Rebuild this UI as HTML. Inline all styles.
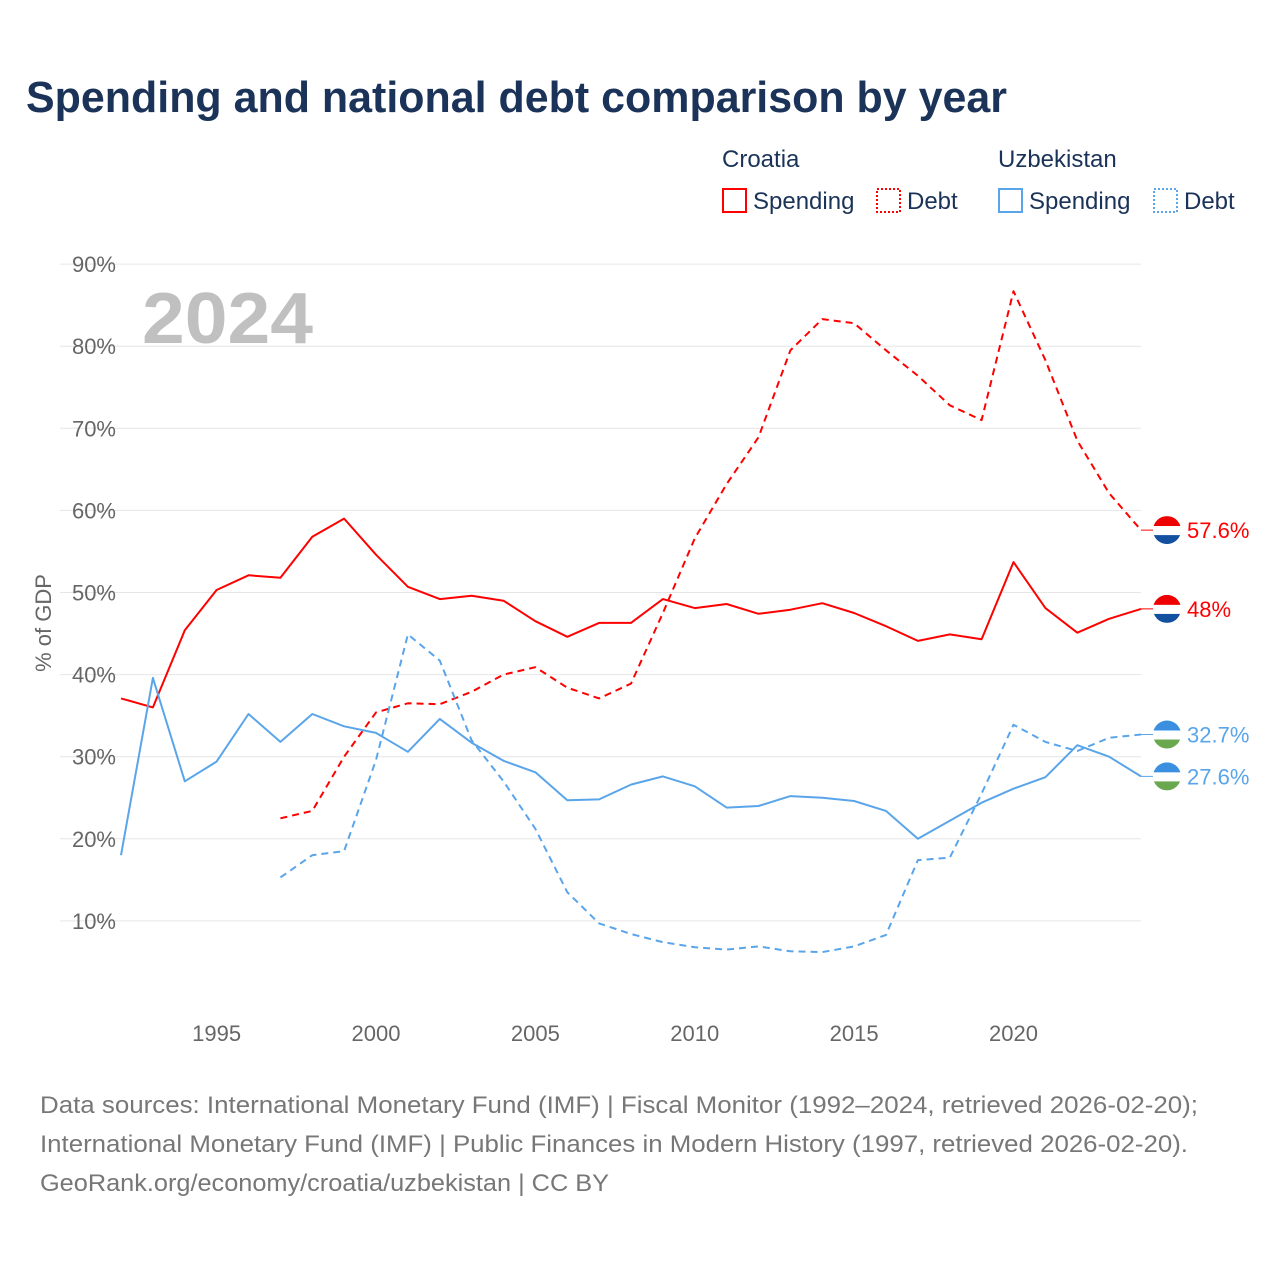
<!DOCTYPE html>
<html><head><meta charset="utf-8">
<style>
html,body{margin:0;padding:0;background:#fff;}
body{width:1280px;height:1280px;overflow:hidden;font-family:"Liberation Sans",sans-serif;}
svg text{font-family:"Liberation Sans",sans-serif;}
</style></head>
<body>
<svg width="1280" height="1280" viewBox="0 0 1280 1280" xmlns="http://www.w3.org/2000/svg" id="chart">
<text x="26" y="112" font-size="44" font-weight="bold" fill="#1b3358" textLength="981" lengthAdjust="spacingAndGlyphs">Spending and national debt comparison by year</text>
<g>
<text x="722" y="167" font-size="24" fill="#1b3358">Croatia</text>
<text x="998" y="167" font-size="24" fill="#1b3358">Uzbekistan</text>
<g><rect x="723" y="189" width="23" height="23" fill="none" stroke="#f00" stroke-width="2"/><text x="753" y="209" font-size="24" fill="#1b3358">Spending</text></g>
<g><rect x="877" y="189" width="23" height="23" fill="none" stroke="#f00" stroke-width="2" stroke-dasharray="2,2"/><text x="907" y="209" font-size="24" fill="#1b3358">Debt</text></g>
<g><rect x="999" y="189" width="23" height="23" fill="none" stroke="#5aa5ea" stroke-width="2"/><text x="1029" y="209" font-size="24" fill="#1b3358">Spending</text></g>
<g><rect x="1154" y="189" width="23" height="23" fill="none" stroke="#5aa5ea" stroke-width="2" stroke-dasharray="2,2"/><text x="1184" y="209" font-size="24" fill="#1b3358">Debt</text></g>
</g>
<text x="142" y="343" font-size="72" font-weight="bold" fill="#c0c0c0" textLength="171" lengthAdjust="spacingAndGlyphs">2024</text>
<g id="grid"></g><g id="series"></g><g id="ends"></g>
<text transform="translate(51,623) rotate(-90)" text-anchor="middle" font-size="22" fill="#666">% of GDP</text>
<g font-size="24" fill="#777">
<text x="40" y="1113" textLength="1158" lengthAdjust="spacingAndGlyphs">Data sources: International Monetary Fund (IMF) | Fiscal Monitor (1992–2024, retrieved 2026-02-20);</text>
<text x="40" y="1152" textLength="1148" lengthAdjust="spacingAndGlyphs">International Monetary Fund (IMF) | Public Finances in Modern History (1997, retrieved 2026-02-20).</text>
<text x="40" y="1191" textLength="569" lengthAdjust="spacingAndGlyphs">GeoRank.org/economy/croatia/uzbekistan | CC BY</text>
</g>
</svg>
<script>
const yTicks=[10,20,30,40,50,60,70,80,90];
const xTicks=[1995,2000,2005,2010,2015,2020];
const years=[];for(let y=1992;y<=2024;y++)years.push(y);
const debtYears=years.filter(y=>y>=1997);
const croSpending=[37.1,36.0,45.4,50.3,52.1,51.8,56.8,59.0,54.6,50.7,49.2,49.6,49.0,46.5,44.6,46.3,46.3,49.2,48.1,48.6,47.4,47.9,48.7,47.5,45.9,44.1,44.9,44.3,53.7,48.1,45.1,46.8,48.0];
const croDebt=[22.5,23.4,30.0,35.4,36.5,36.4,37.9,40.0,40.9,38.4,37.1,38.9,47.5,56.6,63.2,68.9,79.5,83.3,82.8,79.5,76.4,72.8,71.0,86.7,78.3,68.5,62.1,57.6];
const uzbSpending=[18.0,39.6,27.0,29.4,35.2,31.8,35.2,33.7,32.9,30.6,34.6,31.7,29.5,28.1,24.7,24.8,26.6,27.6,26.4,23.8,24.0,25.2,25.0,24.6,23.4,20.0,22.2,24.4,26.1,27.5,31.4,30.0,27.6];
const uzbDebt=[15.3,18.0,18.5,29.6,44.9,41.7,32.0,27.0,21.2,13.5,9.7,8.4,7.4,6.8,6.5,6.9,6.3,6.2,6.9,8.3,17.4,17.7,25.5,33.9,31.8,30.7,32.3,32.7];
const endLabels=["57.6%","48%","32.7%","27.6%"];
const NS="http://www.w3.org/2000/svg";
const X=y=>121+(y-1992)*(1141-121)/32;
const Y=v=>1003-v*8.21;
function mk(t,a,p){const e=document.createElementNS(NS,t);for(const k in a)e.setAttribute(k,a[k]);p.appendChild(e);return e;}
const grid=document.getElementById('grid');
yTicks.forEach(v=>{
 const l=mk('line',{x1:60,x2:1141,y1:Y(v),y2:Y(v),stroke:'#e6e6e6','stroke-width':1},grid);
 
 
 const t=mk('text',{x:116,y:Y(v)+8,'text-anchor':'end','font-size':22,fill:'#666'},grid);t.textContent=v+'%';
 
 
});
xTicks.forEach(v=>{
 const t=mk('text',{x:X(v),y:1041,'text-anchor':'middle','font-size':22,fill:'#666'},grid);t.textContent=v;
 
 
});
const s=document.getElementById('series');
function line(xs,vs,col,dash,name){
 const d=vs.map((v,i)=>(i?'L':'M')+X(xs[i]).toFixed(1)+','+Y(v).toFixed(1)).join('');
 const p=mk('path',{d:d,fill:'none',stroke:col,'stroke-width':2,'stroke-dasharray':dash||'none','stroke-linejoin':'round'},s);
 
 
}
line(years,croSpending,'#f00',null,'croatia-spending-line');
line(debtYears,croDebt,'#f00','7,5','croatia-debt-line');
line(years,uzbSpending,'#5aa5ea',null,'uzbekistan-spending-line');
line(debtYears,uzbDebt,'#5aa5ea','7,5','uzbekistan-debt-line');
const ends=document.getElementById('ends');
const endVals=[croDebt[croDebt.length-1],croSpending[croSpending.length-1],uzbDebt[uzbDebt.length-1],uzbSpending[uzbSpending.length-1]];
const endCols=['#f00','#f00','#5aa5ea','#5aa5ea'];
const flagCols=[['#e00','#fff','#1450a0'],['#e00','#fff','#1450a0'],['#3a8fe0','#fff','#6aa84f'],['#3a8fe0','#fff','#6aa84f']];
endVals.forEach((v,i)=>{
 const cy=Y(v),cx=1167;
 mk('line',{x1:1141,x2:cx,y1:cy,y2:cy,stroke:endCols[i],'stroke-width':1},ends);
 const g=mk('g',{},ends);
 
 
 const clip=mk('clipPath',{id:'c'+i},g);
 mk('circle',{cx:cx,cy:cy,r:14},clip);
 const f=flagCols[i];
 mk('rect',{x:cx-14,y:cy-14,width:28,height:10,fill:f[0],'clip-path':'url(#c'+i+')'},g);
 mk('rect',{x:cx-14,y:cy-4,width:28,height:9,fill:f[1],'clip-path':'url(#c'+i+')'},g);
 mk('rect',{x:cx-14,y:cy+5,width:28,height:9,fill:f[2],'clip-path':'url(#c'+i+')'},g);
 const t=mk('text',{x:1187,y:cy+8,'font-size':22,fill:endCols[i]},ends);t.textContent=endLabels[i];
 
 
});
</script>
</body></html>
